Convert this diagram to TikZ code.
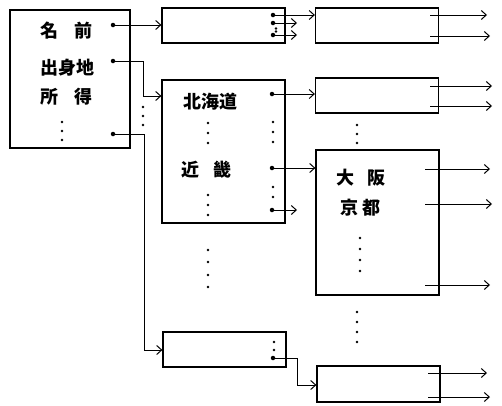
\documentclass[tikz,border=0pt]{standalone}
\usepackage{fontspec}
\usepackage{tikz}
\usetikzlibrary{arrows.meta}
\newfontfamily\cjk{Noto Sans CJK JP}

\begin{document}
\begin{tikzpicture}[
  x=1pt, y=-1pt,
  box/.style={rectangle, draw=black, line width=1.2pt, inner sep=0pt, minimum width=#1},
  box/.default=123pt,
  label/.style={font=\cjk\bfseries\fontsize{18}{20}\selectfont, inner sep=0pt},
  port/.style={circle, fill=black, inner sep=0pt, minimum size=4.5pt},
  arrow/.style={-{Straight Barb[length=5pt,width=9pt]}, line width=1pt}
]
\useasboundingbox (0,0) rectangle (502,405);

% records
\node[box=120pt, minimum height=138pt] (rec) at (70,79) {};
\node[label] at (66.5,31) {名\hspace{17pt}前};
\node[label] at (67,68) {出身地};
\node[label] at (66.5,97) {所\hspace{17pt}得};

% second level
\node[box, minimum height=35pt] (name) at (223.5,25.5) {};
\node[box, minimum height=143pt] (home) at (223.5,151.5) {};
\node[label] at (210,102) {北海道};
\node[label] at (190,170) {近};
\node[label] at (222,170) {畿};
\node[box, minimum height=35pt] (income) at (224.5,349.5) {};

% third level
\node[box, minimum height=35pt] (nameA) at (377,25.5) {};
\node[box, minimum height=35pt] (hokkaido) at (377,95.5) {};
\node[box, minimum height=145pt] (kinki) at (377.5,222.5) {};
\node[label] at (345,178) {大};
\node[label] at (376,178) {阪};
\node[label] at (360,208) {京\hspace{4pt}都};
\node[box, minimum height=36pt] (incomeA) at (378.5,384) {};

% vertical dots
\foreach \px/\py in {62/122, 62/131, 62/140, 143/107, 143/116, 143/125,
    276/28.5, 276/31.5, 208/123, 208/133, 208/143, 208/195, 208/205, 208/215,
    273/122, 273/132, 273/142, 273/187, 273/197,
    208/250, 208/262, 208/275, 208/287, 357/125, 357/134, 357/143,
    360/238, 360/249, 360/260, 360/271, 357/312, 357/322, 357/332, 357/342,
    274/342, 274/350}
  \fill (\px,\py) circle (1.4pt);

% ports
\node[port] (pName) at (113,25) {};
\node[port] (pHome) at (113,61) {};
\node[port] (pIncome) at (113,134) {};
\node[port] (pN1) at (273,15) {};
\node[port] (pN2) at (273,23) {};
\node[port] (pN3) at (273,35) {};
\node[port] (pH1) at (272,94) {};
\node[port] (pH2) at (272,168) {};
\node[port] (pH3) at (272,210) {};
\node[port] (pI1) at (273,358) {};

\coordinate (jHome) at (143,96);
\coordinate (jIncome) at (144,350);
\coordinate (jI1) at (297,385);
\coordinate (eN2) at (297,23);
\coordinate (eN3) at (297,35);
\coordinate (eH3) at (297,210);

% links
\draw[arrow] (pName) -- (pName -| name.west);
\draw[arrow] (pHome) -| (jHome) -- (jHome -| home.west);
\draw[arrow] (pIncome) -| (jIncome) -- (jIncome -| income.west);
\draw[arrow] (pN1) -- (pN1 -| nameA.west);
\draw[arrow] (pN2) -- (eN2);
\draw[arrow] (pN3) -- (eN3);
\draw[arrow] (pH1) -- (pH1 -| hokkaido.west);
\draw[arrow] (pH2) -- (pH2 -| kinki.west);
\draw[arrow] (pH3) -- (eH3);
\draw[arrow] (pI1) -| (jI1) -- (jI1 -| incomeA.west);

% outputs
\foreach \sx/\ex/\yy in {430/487/15, 430/490/36, 430/492/86, 430/492/106,
    425/490/169, 425/492/204, 425/490/285, 428/487/373, 428/490/397}
  \draw[arrow] (\sx,\yy) -- (\ex,\yy);
\end{tikzpicture}
\end{document}
